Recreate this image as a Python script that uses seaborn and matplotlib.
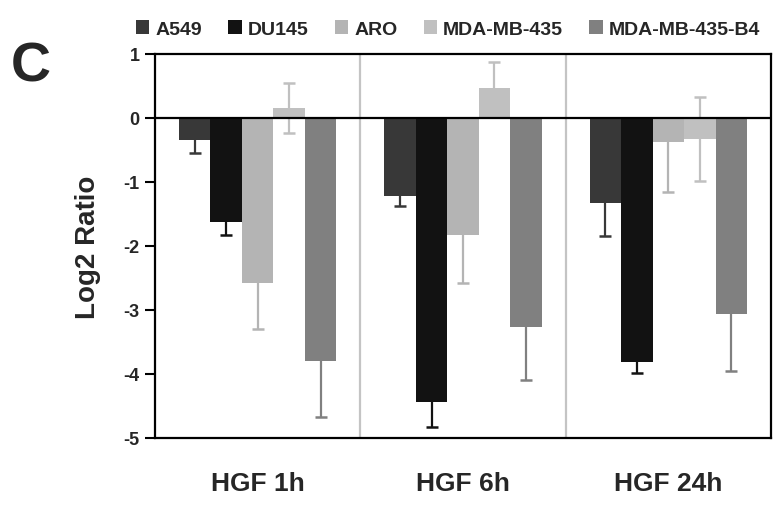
import numpy as np
import pandas as pd
import seaborn as sns
import matplotlib.pyplot as plt
from matplotlib.patches import Patch

# data
groups = ['HGF 1h', 'HGF 6h', 'HGF 24h']
cell_lines = ['A549', 'DU145', 'ARO', 'MDA-MB-435', 'MDA-MB-435-B4']

a549 = [-0.34, -1.22, -1.33]
du145 = [-1.63, -4.44, -3.82]
aro = [-2.58, -1.83, -0.37]
mda435 = [0.15, 0.47, -0.33]
mda435_b4 = [-3.80, -3.27, -3.07]

# lower / upper error bar lengths
err_low = {'A549': [0.21, 0.16, 0.51],
           'DU145': [0.20, 0.39, 0.17],
           'ARO': [0.71, 0.75, 0.79],
           'MDA-MB-435': [0.39, 0.41, 0.66],
           'MDA-MB-435-B4': [0.87, 0.83, 0.89]}
err_high = {'A549': [0, 0, 0],
            'DU145': [0, 0, 0],
            'ARO': [0, 0, 0],
            'MDA-MB-435': [0.39, 0.41, 0.66],
            'MDA-MB-435-B4': [0, 0, 0]}

colors = ['#383838', '#121212', '#b4b4b4', '#c0c0c0', '#808080']


def build_frame():
    rows = []
    for line, vals in zip(cell_lines, [a549, du145, aro, mda435, mda435_b4]):
        for g, v in zip(groups, vals):
            rows.append({'group': g, 'line': line, 'value': v})
    return pd.DataFrame(rows)


def main():
    sns.set_style('white')
    plt.rcParams['font.family'] = ['Liberation Sans', 'DejaVu Sans']
    plt.rcParams['font.weight'] = 'bold'

    df = build_frame()
    fig = plt.figure(figsize=(7.79, 5.10), dpi=100)
    ax = fig.add_axes([155 / 779, 1 - 439 / 510, 616 / 779, 384 / 510])

    sns.barplot(data=df, x='group', y='value', hue='line', order=groups, hue_order=cell_lines,
                palette=colors, width=0.767, errorbar=None, saturation=1, linewidth=0,
                legend=False, ax=ax, zorder=2)

    # error bars, same colour as the bars; caps only on the drawn side
    for line, color, container in zip(cell_lines, colors, ax.containers):
        xs = np.array([p.get_x() + p.get_width() / 2 for p in container.patches])
        ys = df[df.line == line].set_index('group').loc[groups, 'value'].values
        lo = np.array(err_low[line])
        hi = np.array(err_high[line])
        ax.errorbar(xs, ys, yerr=[lo, hi], fmt='none', ecolor=color,
                    elinewidth=1.6, capsize=0, zorder=3)
        ax.plot(xs, ys - lo, ls='none', marker='_', ms=8, mew=1.8, color=color, zorder=3)
        up = hi > 0
        ax.plot(xs[up], (ys + hi)[up], ls='none', marker='_', ms=8, mew=1.8, color=color, zorder=3)

    ax.axhline(0, color='black', lw=1.6, zorder=4)
    for x in [0.5, 1.5]:
        ax.axvline(x, color='#c4c4c4', lw=1.6, zorder=1)

    ax.set_xlim(-0.5, 2.5)
    ax.set_ylim(-5, 1)
    ax.set_yticks(range(-5, 2))
    ax.set_yticklabels([str(v) for v in range(-5, 2)], fontsize=13, fontweight='bold')
    ax.set_xticks(range(3))
    ax.set_xticklabels(groups, fontsize=19, fontweight='bold')
    ax.tick_params(axis='x', length=0, pad=24)
    ax.tick_params(axis='y', length=7, width=1.5, color='black', direction='out', pad=4, left=True)
    ax.set_xlabel('')
    ax.set_ylabel('Log2 Ratio', fontsize=20, fontweight='bold')
    ax.yaxis.set_label_coords(-0.088, 0.5)

    for s in ax.spines.values():
        s.set_color('black')
        s.set_linewidth(1.6)
        s.set_visible(True)

    handles = [Patch(facecolor=c, edgecolor='none', label=l) for c, l in zip(colors, cell_lines)]
    fig.legend(handles=handles, loc='center', bbox_to_anchor=(0.575, 0.941), ncol=5, frameon=False,
               prop={'size': 14, 'weight': 'bold'}, handlelength=0.7, handleheight=0.7,
               handletextpad=0.3, columnspacing=1.35)

    fig.text(31 / 779, 1 - 67 / 510, 'C', fontsize=40, fontweight='bold', ha='center', va='center')

    fig.savefig('out.png', dpi=100)


if __name__ == '__main__':
    main()
